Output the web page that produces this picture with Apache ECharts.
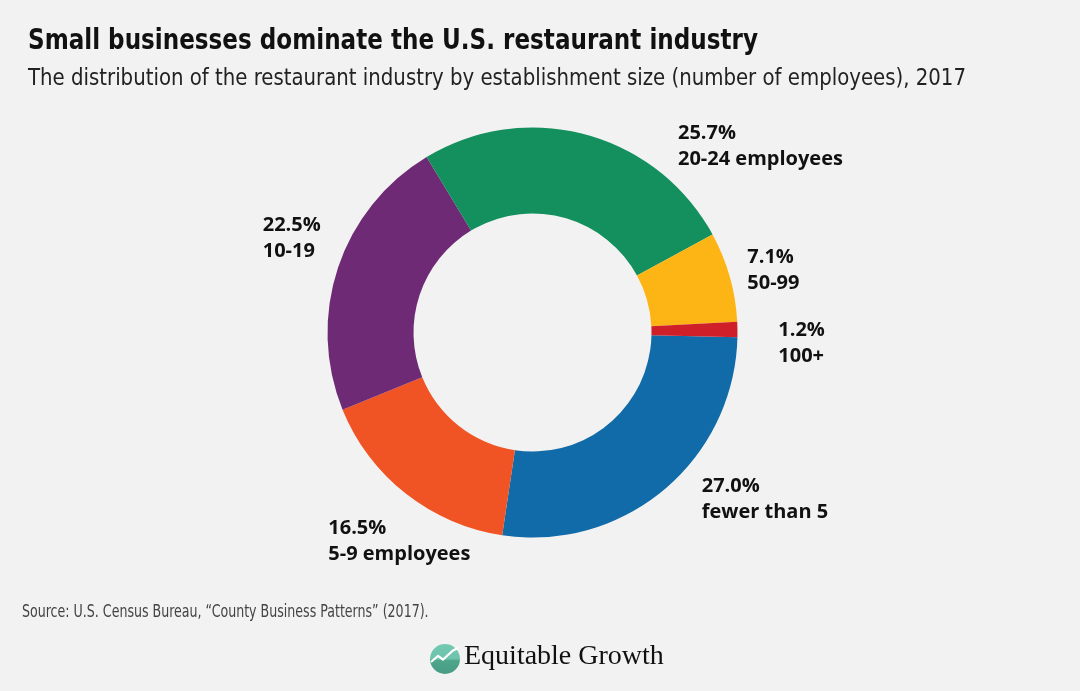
<!DOCTYPE html>
<html>
<head>
<meta charset="utf-8">
<script src="https://cdn.jsdelivr.net/npm/echarts@6/dist/echarts.min.js"></script>
<style>
html,body{margin:0;padding:0;background:#F2F2F2;}
#chart{width:1080px;height:691px;}
</style>
</head>
<body>
<div id="chart"></div>
<script>
// ---- data ----
const categories = ['fewer than 5', '5-9 employees', '10-19', '20-24 employees', '50-99', '100+'];
const shares = [27.0, 16.5, 22.5, 25.7, 7.1, 1.2];
const sliceColors = ['#116BA8', '#F05324', '#6E2A75', '#13905D', '#FDB515', '#CF202A'];

const titleText = 'Small businesses dominate the U.S. restaurant industry';
const subtitleText = 'The distribution of the restaurant industry by establishment size (number of employees), 2017';
const sourceText = 'Source: U.S. Census Bureau, \u201cCounty Business Patterns\u201d (2017).';
const brandText = 'Equitable Growth';

// label anchor points (left x, vertical middle of the two-line block)
const labelAnchors = [[701.7, 499], [328.3, 541], [262.7, 238], [678, 146], [747.3, 270], [778.3, 343]];

const chart = echarts.init(document.getElementById('chart'), null, {renderer: 'canvas'});

const pieData = categories.map((c, i) => ({
  name: c, value: shares[i], itemStyle: {color: sliceColors[i]}
}));

const condensed = '"Liberation Sans Narrow", "DejaVu Sans Condensed", sans-serif';

const option = {
  backgroundColor: '#F2F2F2',
  animation: false,
  graphic: [
    {type: 'text', x: 28, y: 27, scaleX: 0.885, style: {text: titleText, font: 'bold 29px ' + condensed, fill: '#111', verticalAlign: 'top'}},
    {type: 'text', x: 28, y: 67.5, scaleX: 0.954, style: {text: subtitleText, font: '23px ' + condensed, fill: '#222', verticalAlign: 'top'}},
    {type: 'text', x: 22, y: 604.5, scaleX: 0.825, style: {text: sourceText, font: '17px ' + condensed, fill: '#444', verticalAlign: 'top'}},
    {type: 'circle', shape: {cx: 445, cy: 659, r: 15}, style: {fill: {type: 'linear', x: 0, y: 0, x2: 0, y2: 1, colorStops: [{offset: 0, color: '#74C9B2'}, {offset: 0.5, color: '#6CC2AA'}, {offset: 0.55, color: '#4FA68B'}, {offset: 1, color: '#479C82'}]}}},
    {type: 'polyline', shape: {points: [[431, 662], [438, 656], [443, 659.5], [453, 650.5], [458, 648]]}, style: {stroke: '#fff', lineWidth: 2.2, fill: null}},
    {type: 'text', x: 464, y: 643, style: {text: brandText, font: '28px "Liberation Serif", "DejaVu Serif", serif', fill: '#111', verticalAlign: 'top'}}
  ],
  series: [{
    type: 'pie',
    center: [532.5, 332.5],
    radius: [119, 205],
    startAngle: -1.3,
    clockwise: true,
    avoidLabelOverlap: false,
    emphasis: {disabled: true},
    silent: true,
    itemStyle: {borderWidth: 0},
    label: {
      show: true,
      position: 'outside',
      formatter: p => '{a|' + p.value.toFixed(1) + '%}\n{a|' + p.name + '}',
      rich: {
        a: {fontFamily: '"Open Sans", Roboto, sans-serif', fontWeight: 'bold', fontSize: 20, lineHeight: 26, color: '#111'}
      }
    },
    labelLine: {show: false},
    labelLayout: params => {
      const a = labelAnchors[params.dataIndex];
      return {x: a[0], y: a[1], align: 'left', verticalAlign: 'middle'};
    },
    data: pieData
  }]
};
chart.setOption(option);
</script>
</body>
</html>
